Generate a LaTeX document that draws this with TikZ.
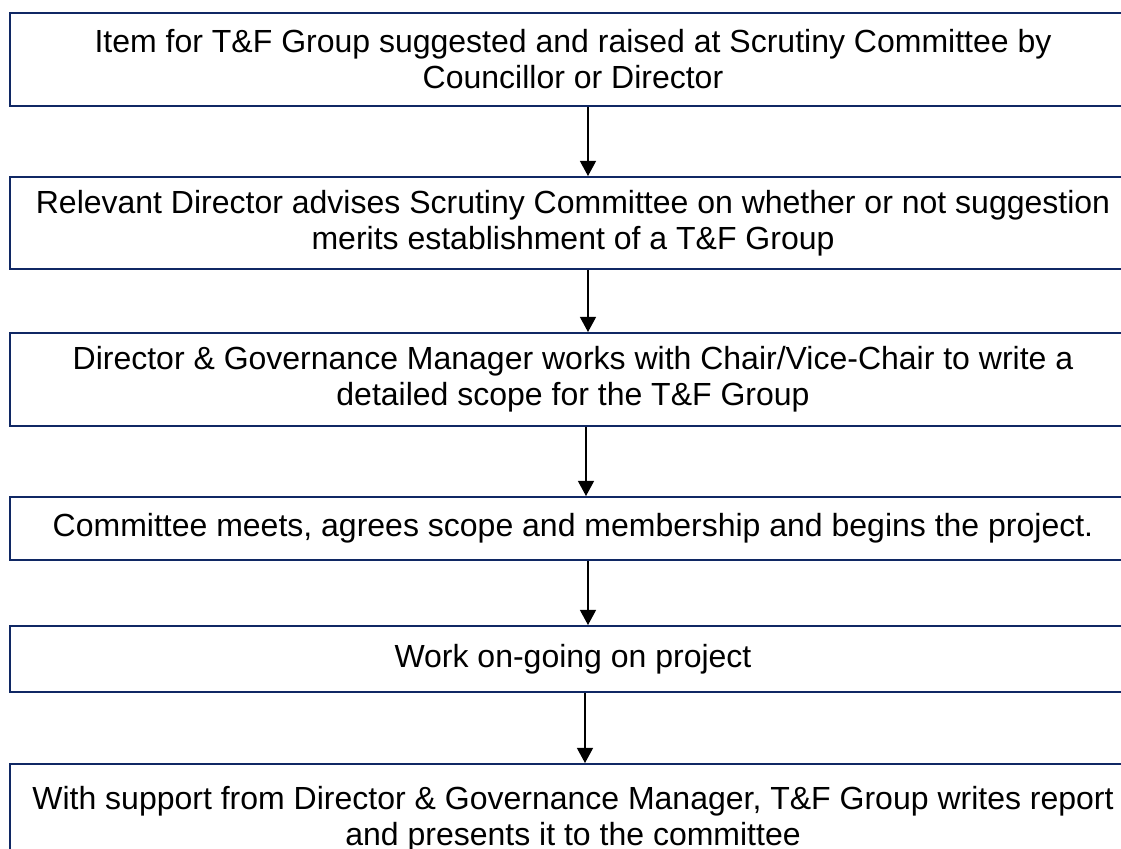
\documentclass[tikz,border=0pt]{standalone}
\usepackage{fontspec}
\setmainfont{Liberation Sans}
\usetikzlibrary{arrows.meta, positioning}
\definecolor{boxnavy}{RGB}{16, 40, 100}

\tikzset{
  stage/.style={draw=boxnavy, line width=1pt, align=center, inner sep=0pt,
    minimum width=563pt, anchor=north west, font=\fontsize{16}{18}\selectfont},
  flow/.style={-{Triangle[width=8pt, length=7.5pt]}, line width=0.6pt}
}

\begin{document}
\begin{tikzpicture}[x=0.5pt, y=-0.5pt]
  \useasboundingbox (0,0) rectangle (1121,849);
  % the six stages, top to bottom
  \node[stage, minimum height=46.5pt] (raise) at (9,12)
    {Item for T\&F Group suggested and raised at Scrutiny Committee by\\Councillor or Director};
  \node[stage, minimum height=46pt] (advise) at (9,176)
    {Relevant Director advises Scrutiny Committee on whether or not suggestion\\merits establishment of a T\&F Group};
  \node[stage, minimum height=46.5pt] (scope) at (9,332)
    {Director \& Governance Manager works with Chair/Vice-Chair to write a\\detailed scope for the T\&F Group};
  \node[stage, minimum height=31.5pt] (meet) at (9,496)
    {Committee meets, agrees scope and membership and begins the project.};
  \node[stage, minimum height=33pt] (work) at (9,625)
    {Work on-going on project};
  \node[stage, minimum height=55pt] (report) at (9,763)
    {With support from Director \& Governance Manager, T\&F Group writes report\\and presents it to the committee};
  % arrows between stages
  \draw[flow] ([xshift=7.5pt]raise.south) -- ([xshift=7.5pt]advise.north);
  \draw[flow] ([xshift=7.5pt]advise.south) -- ([xshift=7.5pt]scope.north);
  \draw[flow] ([xshift=6.5pt]scope.south) -- ([xshift=6.5pt]meet.north);
  \draw[flow] ([xshift=7.5pt]meet.south) -- ([xshift=7.5pt]work.north);
  \draw[flow] ([xshift=6pt]work.south) -- ([xshift=6pt]report.north);
\end{tikzpicture}
\end{document}
